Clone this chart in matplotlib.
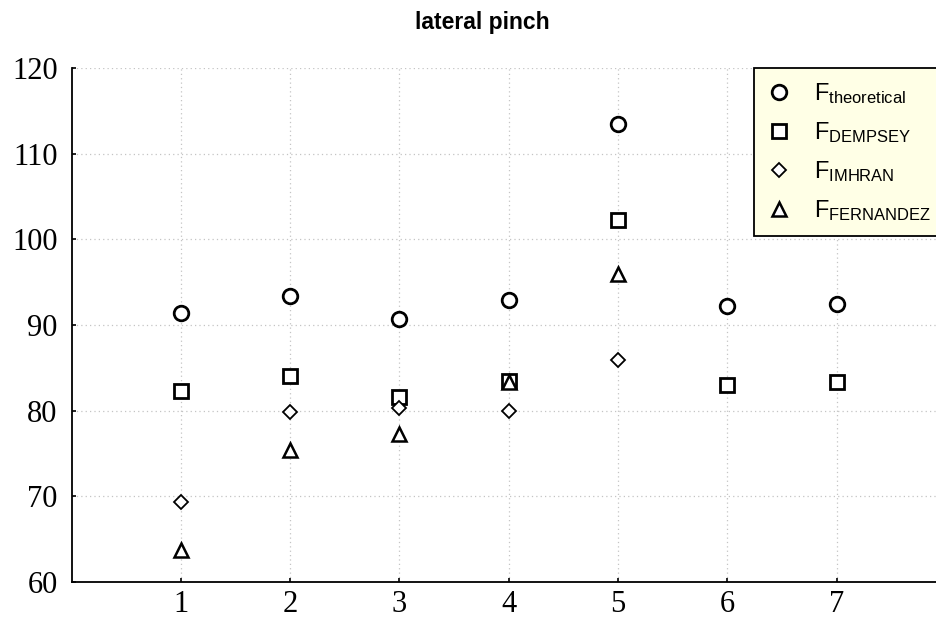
import numpy as np
import matplotlib.pyplot as plt

# values
trial = [1, 2, 3, 4, 5, 6, 7]
f_theoretical = [91.4, 93.4, 90.7, 92.9, 113.5, 92.2, 92.5]
f_dempsey = [82.3, 84.1, 81.6, 83.5, 102.2, 83.0, 83.3]
f_imhran = [69.3, 79.8, 80.3, 80.0, 85.9]
f_fernandez = [63.7, 75.4, 77.3, 83.3, 96.0]

x_ticks = [1, 2, 3, 4, 5, 6, 7]
y_ticks = [60, 70, 80, 90, 100, 110, 120]


def make_plot(save_name="out.png"):
    fig = plt.figure(figsize=(9.36, 6.23), dpi=100)
    # axes runs off the right edge of the picture, as in the reference
    ax = fig.add_axes([71.5 / 936, 1 - 582 / 623, (946 - 71.5) / 936, 514 / 623])

    ax.plot(trial, f_theoretical, linestyle="none", marker="o", ms=10.5,
            mfc="white", mec="black", mew=2.0, label=r"$\mathregular{F_{theoretical}}$")
    ax.plot(trial, f_dempsey, linestyle="none", marker="s", ms=10.5,
            mfc="white", mec="black", mew=2.0, label=r"$\mathregular{F_{DEMPSEY}}$")
    ax.plot(trial[:len(f_imhran)], f_imhran, linestyle="none", marker="D", ms=7.5,
            mfc="white", mec="black", mew=1.3, label=r"$\mathregular{F_{IMHRAN}}$")
    ax.plot(trial[:len(f_fernandez)], f_fernandez, linestyle="none", marker="^", ms=10,
            mfc="white", mec="black", mew=1.8, label=r"$\mathregular{F_{FERNANDEZ}}$")

    ax.set_xlim(0, 8)
    ax.set_ylim(60, 120)
    ax.set_xticks(x_ticks)
    ax.set_yticks(y_ticks)
    ax.tick_params(direction="in", length=3, width=1.2, pad=10)
    ax.tick_params(axis="x", pad=6)
    for lab in ax.get_xticklabels() + ax.get_yticklabels():
        lab.set_family("Liberation Serif")
        lab.set_fontsize(22)

    ax.grid(True, linestyle=(0, (1, 2.5)), color="#c4c4c4", linewidth=0.9)
    ax.set_axisbelow(True)
    for side in ["top", "right"]:
        ax.spines[side].set_visible(False)
    for side in ["left", "bottom"]:
        ax.spines[side].set_linewidth(1.3)

    leg = ax.legend(loc="upper left", bbox_to_anchor=((754 - 71.5) / 874.5, 1.0),
                    borderaxespad=0, fancybox=False, framealpha=1,
                    facecolor="#ffffe6", edgecolor="black",
                    prop={"family": "Liberation Sans", "size": 17},
                    handlelength=1.0, handletextpad=1.0, labelspacing=0.6,
                    borderpad=0.55)
    leg.get_frame().set_linewidth(1.3)

    fig.text(482 / 936, 1 - 23 / 623, "lateral pinch", ha="center", va="center",
             family="Liberation Sans", weight="bold", fontsize=16.5)

    fig.savefig(save_name)
    plt.close(fig)


make_plot()
